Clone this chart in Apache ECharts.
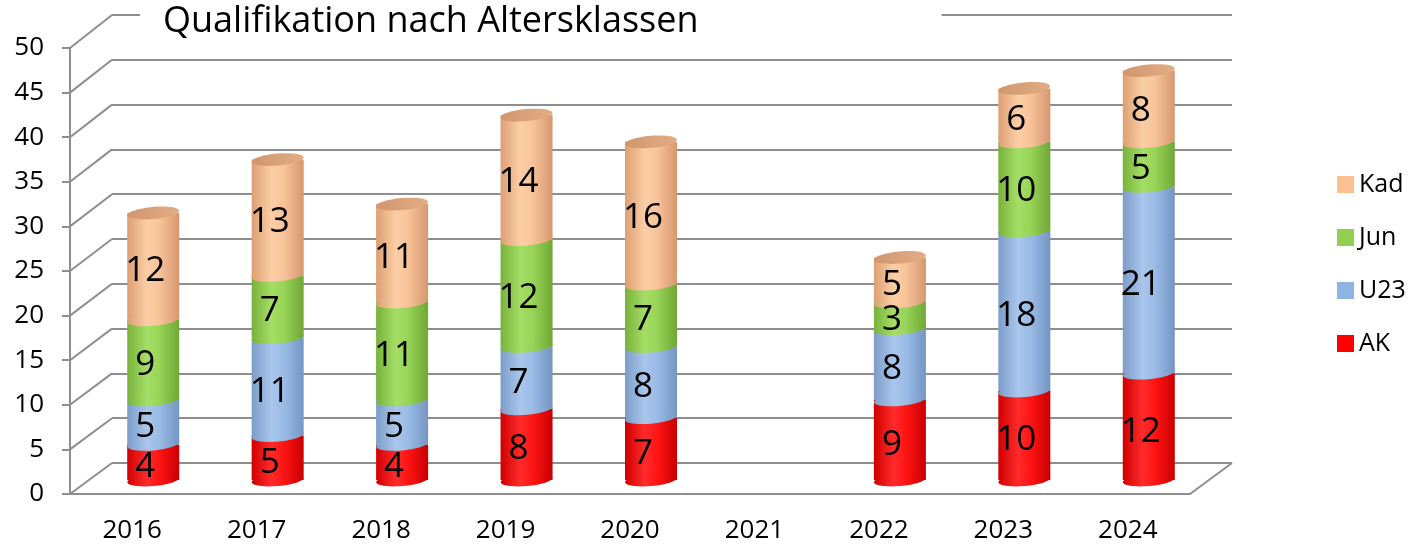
<!DOCTYPE html>
<html>
<head>
<meta charset="utf-8">
<title>Qualifikation nach Altersklassen</title>
<script src="https://cdn.jsdelivr.net/npm/echarts@6/dist/echarts.min.js"></script>
<style>
html, body { margin: 0; padding: 0; background: #fff; }
#main { width: 1409px; height: 547px; }
</style>
</head>
<body>
<div id="main"></div>
<script>
// Daten
var years = ['2016', '2017', '2018', '2019', '2020', '2021', '2022', '2023', '2024'];
var ak  = [4, 5, 4, 8, 7, 0, 9, 10, 12];
var u23 = [5, 11, 5, 7, 8, 0, 8, 18, 21];
var jun = [9, 7, 11, 12, 7, 0, 3, 10, 5];
var kad = [12, 13, 11, 14, 16, 0, 5, 6, 8];
var seriesNames = ['AK', 'U23', 'Jun', 'Kad'];
var yMin = 0, yMax = 50, yStep = 5;

var FONT = '"Open Sans", "Noto Sans", sans-serif';
var GRID_COLOR = '#8e8e8e';

// Rueckwand, Vorderkante und mittlere Ebene (fuer die Zylinder)
var BACK  = { left: 112, right: 177, top: 15, bottom: 84 };
var FRONT = { left: 70, right: 219, top: 48, bottom: 53 };
var MID   = { left: 91, right: 198, top: 35, bottom: 67 };

var baseColors = ['#ff0000', '#8eb4e3', '#92d050', '#fac090'];
function grad(stops) {
  return new echarts.graphic.LinearGradient(0, 0, 1, 0, [
    { offset: 0, color: stops[0] },
    { offset: 0.38, color: stops[1] },
    { offset: 0.62, color: stops[2] },
    { offset: 1, color: stops[3] }
  ]);
}
var grads = [
  grad(['#d00000', '#ff2b2b', '#ff1414', '#c80000']),
  grad(['#7c9dc9', '#a9c6ec', '#9abbe6', '#7596c3']),
  grad(['#78b23b', '#a5de66', '#97d457', '#70a736']),
  grad(['#dc9f72', '#fccea6', '#f8c399', '#d69770'])
];
var topGrad = new echarts.graphic.LinearGradient(0, 0, 1, 0, [
  { offset: 0, color: '#d1966e' },
  { offset: 1, color: '#e2ad86' }
]);

var stacks = [ak, u23, jun, kad];
var totals = years.map(function (y, i) {
  return ak[i] + u23[i] + jun[i] + kad[i];
});

function buildData(sIdx) {
  var out = [];
  years.forEach(function (y, i) {
    var v = stacks[sIdx][i];
    if (!v) return;
    var base = 0;
    for (var k = 0; k < sIdx; k++) base += stacks[k][i];
    var top = base + v;
    out.push([i, base, top, v, top === totals[i] ? 1 : 0]);
  });
  return out;
}

var TILT = 0.09;
function cylinder(sIdx) {
  return function (params, api) {
    var i = api.value(0), b = api.value(1), t = api.value(2), v = api.value(3), isTop = api.value(4);
    var pB = api.coord([i, b]);
    var pT = api.coord([i, t]);
    var cx = pB[0], rx = 26, ry = 6;
    var kids = [
      { type: 'rect', z2: sIdx * 3,
        shape: { x: cx - rx, y: pT[1], width: rx * 2, height: pB[1] - pT[1] },
        style: { fill: grads[sIdx] } },
      { type: 'ellipse', z2: sIdx * 3 + 1, rotation: TILT, originX: cx, originY: pB[1],
        shape: { cx: cx, cy: pB[1], rx: rx, ry: ry },
        style: { fill: grads[sIdx] } }
    ];
    if (isTop) {
      kids.push({ type: 'ellipse', z2: 30, rotation: TILT, originX: cx, originY: pT[1],
        shape: { cx: cx, cy: pT[1], rx: rx, ry: ry },
        style: { fill: topGrad } });
    }
    kids.push({ type: 'text', z2: 60, x: cx - 8, y: (pT[1] + pB[1]) / 2 + 5,
      style: { text: String(v), fontSize: 35, fontFamily: FONT, fill: '#000',
        align: 'center', verticalAlign: 'middle' } });
    return { type: 'group', children: kids };
  };
}

var chart = echarts.init(document.getElementById('main'));

var option = {
  animation: false,
  backgroundColor: '#fff',
  title: {
    text: 'Qualifikation nach Altersklassen',
    left: 140,
    top: 1,
    padding: [3, 243, 3, 23],
    backgroundColor: '#fff',
    textStyle: { fontSize: 36, fontWeight: 'normal', fontFamily: FONT, color: '#000' }
  },
  legend: {
    orient: 'vertical',
    left: 1332,
    top: 167,
    itemWidth: 17,
    itemHeight: 17,
    itemGap: 28,
    icon: 'rect',
    data: ['Kad', 'Jun', 'U23', 'AK'],
    textStyle: { fontSize: 25, fontFamily: FONT, color: '#000' }
  },
  grid: [
    Object.assign({}, BACK),
    Object.assign({}, FRONT),
    Object.assign({}, MID)
  ],
  xAxis: [
    { gridIndex: 0, type: 'category', data: years, show: false },
    { gridIndex: 1, type: 'category', data: years,
      axisLine: { lineStyle: { color: GRID_COLOR, width: 2 } },
      axisTick: { length: 9, interval: 0, lineStyle: { color: GRID_COLOR, width: 2 } },
      axisLabel: { fontSize: 26, fontFamily: FONT, color: '#000', margin: 24, interval: 0 },
      splitLine: { show: false } },
    { gridIndex: 2, type: 'category', data: years, show: false }
  ],
  yAxis: [
    { gridIndex: 0, type: 'value', min: yMin, max: yMax, interval: yStep,
      axisLine: { show: false }, axisTick: { show: false }, axisLabel: { show: false },
      splitLine: { show: true, lineStyle: { color: GRID_COLOR, width: 2 } } },
    { gridIndex: 1, type: 'value', min: yMin, max: yMax, interval: yStep,
      axisLine: { show: true, lineStyle: { color: GRID_COLOR, width: 2 } },
      axisTick: { show: true, length: 8, lineStyle: { color: GRID_COLOR, width: 2 } },
      axisLabel: { fontSize: 26, fontFamily: FONT, color: '#000', margin: 26 },
      splitLine: { show: false } },
    { gridIndex: 2, type: 'value', min: yMin, max: yMax, interval: yStep, show: false,
      splitLine: { show: false } }
  ],
  series: seriesNames.map(function (name, s) {
    return {
      name: name,
      type: 'custom',
      xAxisIndex: 2,
      yAxisIndex: 2,
      itemStyle: { color: baseColors[s] },
      encode: { x: 0, y: [1, 2] },
      renderItem: cylinder(s),
      data: buildData(s)
    };
  })
};

chart.setOption(option);

// Diagonalen der linken Seitenwand und des Bodens
var diag = [];
for (var v = yMin; v <= yMax; v += yStep) {
  var yf = chart.convertToPixel({ yAxisIndex: 1 }, v);
  var yb = chart.convertToPixel({ yAxisIndex: 0 }, v);
  diag.push({ type: 'line', z: 0,
    shape: { x1: FRONT.left, y1: yf, x2: BACK.left, y2: yb },
    style: { stroke: GRID_COLOR, lineWidth: 2 } });
}
var yf0 = chart.convertToPixel({ yAxisIndex: 1 }, yMin);
var yb0 = chart.convertToPixel({ yAxisIndex: 0 }, yMin);
diag.push({ type: 'line', z: 0,
  shape: { x1: 1409 - FRONT.right, y1: yf0, x2: 1409 - BACK.right, y2: yb0 },
  style: { stroke: GRID_COLOR, lineWidth: 2 } });
chart.setOption({ graphic: diag });
</script>
</body>
</html>
